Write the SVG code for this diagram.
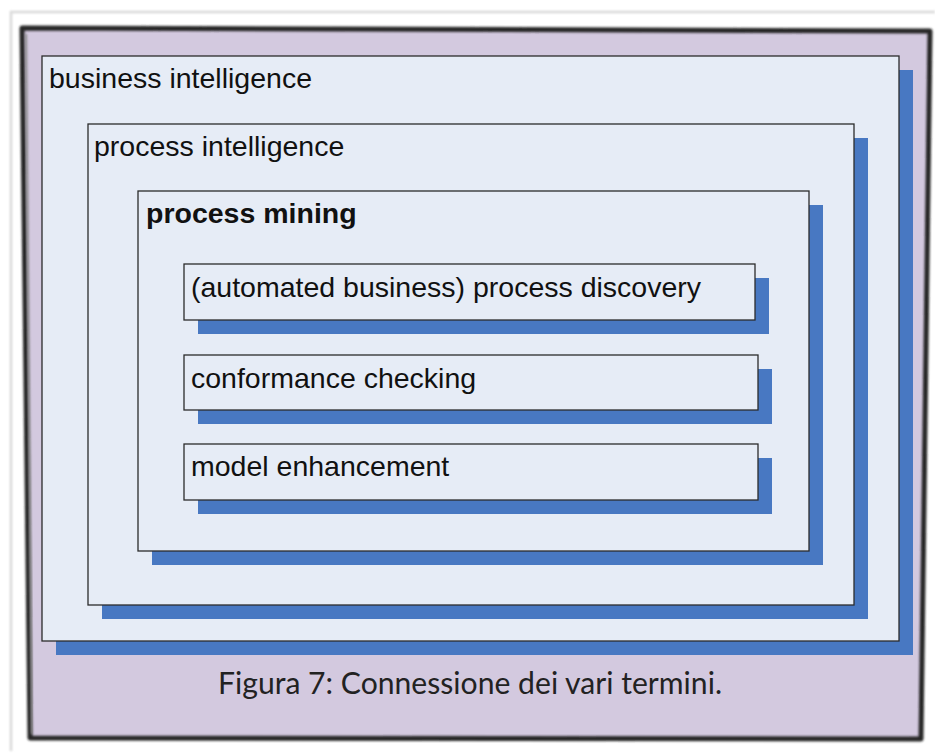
<svg xmlns="http://www.w3.org/2000/svg" width="935" height="753" viewBox="0 0 935 753">
  <defs>
    <filter id="soft" x="-5%" y="-5%" width="110%" height="110%">
      <feGaussianBlur stdDeviation="0.9"/>
    </filter>
  </defs>
  <style>
    .box { fill: #e6ecf6; stroke: #2b2b2b; stroke-width: 1.3; }
    .shadow { fill: #4878c2; }
    .label { font-family: "Liberation Sans", Arial, sans-serif; font-size: 28.5px; fill: #111; }
    .bold { font-weight: bold; }
    .caption { font-family: Lato, "Liberation Sans", sans-serif; font-size: 31px; fill: #222; }
  </style>

  <!-- paper background and frame -->
  <rect x="0" y="0" width="935" height="753" fill="#ffffff"/>
  <path d="M11,751 L11,12 L935,12" fill="none" stroke="#d8d8d8" stroke-width="2.5" filter="url(#soft)"/>
  <polygon points="22,28 930,31 921,739 30,738" fill="#d3c9df"/>
  <polygon points="22,28 930,31 921,739 30,738" fill="none" stroke="#262626" stroke-width="5" stroke-linejoin="round" filter="url(#soft)"/>
  <line x1="26" y1="34" x2="32" y2="734" stroke="#8a8a8a" stroke-width="2" filter="url(#soft)"/>

  <!-- nested boxes -->
  <g id="business-intelligence">
    <rect class="shadow" x="56" y="70" width="857" height="585"/>
    <rect class="box" x="42" y="56" width="857" height="585"/>
    <text class="label" x="49" y="88">business intelligence</text>
  </g>

  <g id="process-intelligence">
    <rect class="shadow" x="102" y="138" width="766" height="481"/>
    <rect class="box" x="88" y="124" width="766" height="481"/>
    <text class="label" x="94" y="156">process intelligence</text>
  </g>

  <g id="process-mining">
    <rect class="shadow" x="152" y="205" width="671" height="360"/>
    <rect class="box" x="138" y="191" width="671" height="360"/>
    <text class="label bold" x="146" y="223">process mining</text>
  </g>

  <g id="process-discovery">
    <rect class="shadow" x="198" y="278" width="571" height="56"/>
    <rect class="box" x="184" y="264" width="571" height="56"/>
    <text class="label" x="191" y="297">(automated business) process discovery</text>
  </g>

  <g id="conformance-checking">
    <rect class="shadow" x="198" y="369" width="574" height="55"/>
    <rect class="box" x="184" y="355" width="574" height="55"/>
    <text class="label" x="191" y="388">conformance checking</text>
  </g>

  <g id="model-enhancement">
    <rect class="shadow" x="198" y="458" width="574" height="56"/>
    <rect class="box" x="184" y="444" width="574" height="56"/>
    <text class="label" x="191" y="476">model enhancement</text>
  </g>

  <!-- caption -->
  <text class="caption" x="218" y="694" textLength="504" lengthAdjust="spacingAndGlyphs">Figura 7: Connessione dei vari termini.</text>
</svg>
